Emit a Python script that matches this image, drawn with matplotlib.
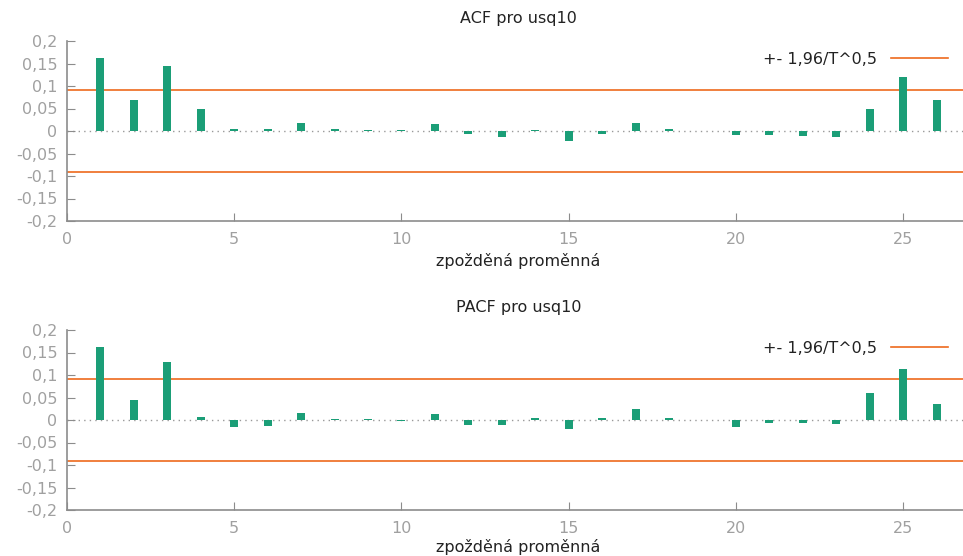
import matplotlib
matplotlib.use("Agg")
import matplotlib.pyplot as plt
from matplotlib.ticker import FuncFormatter

# hodnoty
lags = list(range(1, 27))
acf = [0.163, 0.069, 0.144, 0.050, 0.005, 0.005, 0.018, 0.005, 0.002, 0.002,
       0.016, -0.006, -0.014, 0.002, -0.022, -0.006, 0.018, 0.005, -0.001, -0.009,
       -0.009, -0.011, -0.014, 0.050, 0.119, 0.069]
pacf = [0.162, 0.045, 0.130, 0.007, -0.016, -0.013, 0.015, 0.003, 0.003, -0.002,
        0.014, -0.012, -0.012, 0.004, -0.019, 0.004, 0.024, 0.004, -0.001, -0.015,
        -0.007, -0.007, -0.009, 0.061, 0.114, 0.036]
pas = 0.0912
titulky = ["ACF pro usq10", "PACF pro usq10"]
yticks = [-0.2, -0.15, -0.1, -0.05, 0, 0.05, 0.1, 0.15, 0.2]
xticks = [0, 5, 10, 15, 20, 25]

zelena = "#1b9e77"
oranzova = "#ee6a1c"
seda = "#8c8c8c"


def carka(v, pos):
    return "{:g}".format(round(v, 3)).replace(".", ",")


fig = plt.figure(figsize=(9.63, 5.56), dpi=100)
left = 67 / 963
width = (970 - 67) / 963
pozice = [[left, 1 - 221 / 556, width, 180 / 556],
          [left, 1 - 510 / 556, width, 180 / 556]]
labelpady = [4, 2]

for i, data in enumerate([acf, pacf]):
    ax = fig.add_axes(pozice[i])
    ax.bar(lags, data, width=0.24, color=zelena, zorder=3)
    ax.axhline(0, color="#999999", lw=1, ls=(0, (1, 3)), zorder=1)
    ax.axhline(pas, color=oranzova, lw=1.2, label="+- 1,96/T^0,5", zorder=2)
    ax.axhline(-pas, color=oranzova, lw=1.2, zorder=2)
    ax.set_xlim(0, 27)
    ax.set_ylim(-0.2, 0.2)
    ax.set_yticks(yticks)
    ax.set_xticks(xticks)
    ax.yaxis.set_major_formatter(FuncFormatter(carka))
    for s in ["top", "right"]:
        ax.spines[s].set_visible(False)
    for s in ["left", "bottom"]:
        ax.spines[s].set_color(seda)
        ax.spines[s].set_linewidth(1.2)
    ax.tick_params(direction="in", length=6, color=seda, labelcolor="#a0a0a0",
                   labelsize=11.5)
    ax.tick_params(axis="x", pad=8)
    ax.tick_params(axis="y", pad=7)
    ax.set_title(titulky[i], fontsize=11.5, color="#222222", pad=13)
    ax.set_xlabel("zpožděná proměnná", fontsize=11.5, color="#222222",
                  labelpad=labelpady[i])
    ax.legend(loc="upper right", bbox_to_anchor=(0.992, 1.02), frameon=False,
              markerfirst=False, fontsize=11.5, handlelength=3.6,
              handletextpad=0.9, labelcolor="#222222")

fig.savefig("out.png", dpi=100)
